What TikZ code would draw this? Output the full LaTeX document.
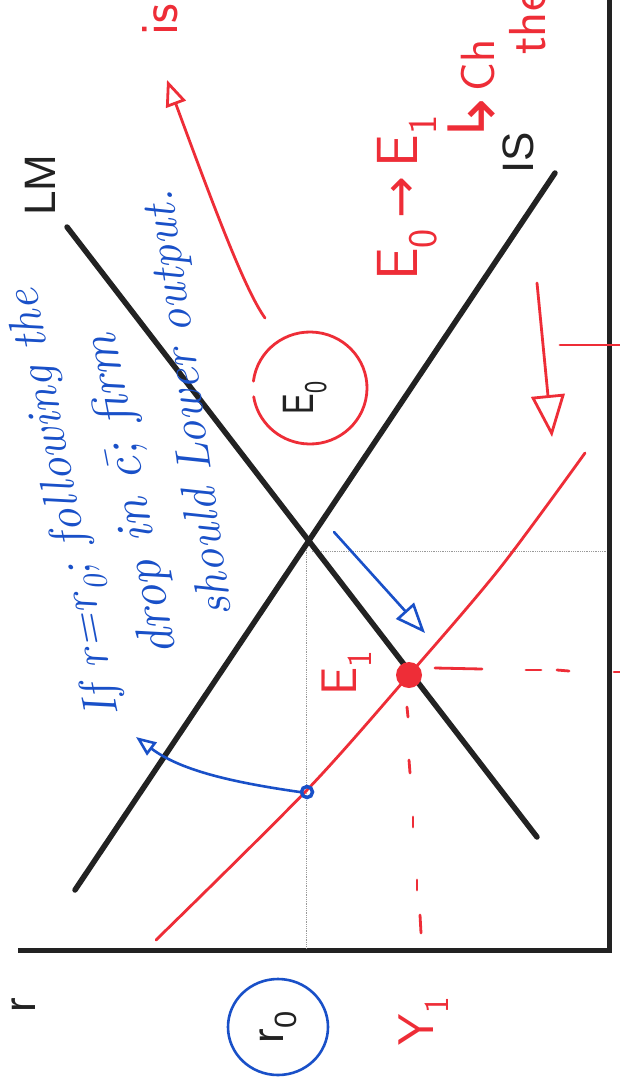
\documentclass[tikz,border=0pt]{standalone}
\usepackage{fontspec}
\newfontfamily\lab{Liberation Sans}
\newfontfamily\sym{DejaVu Sans}
\usetikzlibrary{arrows.meta}
\definecolor{hred}{RGB}{238,45,55}
\definecolor{hblue}{RGB}{25,80,200}
\definecolor{ink}{RGB}{34,34,34}
\newcommand{\fsz}[1]{\fontsize{#1}{#1}\selectfont}
\begin{document}
\begin{tikzpicture}[x=1pt,y=-1pt,
  curve/.style={line width=5.5pt, draw=ink, line cap=round},
  axisline/.style={line width=5pt, draw=ink},
  redline/.style={line width=2.8pt, draw=hred, line cap=round},
  blueline/.style={line width=2.6pt, draw=hblue, line cap=round},
  guide/.style={densely dotted, draw=gray!80, line width=0.8pt},
  printed/.style={font=\lab\fsz{44}, text=ink, inner sep=0pt},
  bluehand/.style={font=\itshape\fsz{48}, text=hblue, inner sep=0pt},
  redhand/.style={font=\sffamily\fsz{58}, text=hred, inner sep=0pt},
  opentip/.style={-{Triangle[open, length=#1, width=0.8*#1]}}
]
\useasboundingbox (0,0) rectangle (620,1088);
\clip (0,0) rectangle (620,1088);
\fill[white] (0,0) rectangle (620,1088);

% axes
\coordinate (origin) at (609,950);
\coordinate (ytop) at (609,-5);
\coordinate (xend) at (18,950);
\draw[axisline] (xend) -- (origin) -- (ytop);

% guides
\coordinate (E0pt) at (308,542);
\coordinate (gv1) at (306,548);
\coordinate (gv2) at (306,948);
\coordinate (gh1) at (312,551);
\coordinate (gh2) at (607,551);
\draw[guide] (gv1) -- (gv2);
\draw[guide] (gh1) -- (gh2);

% LM and IS
\coordinate (LMa) at (67,227); \coordinate (LMb) at (537,837);
\coordinate (ISa) at (555,173); \coordinate (ISb) at (75,890);
\draw[curve] (LMa) -- (LMb);
\draw[curve] (ISa) -- (ISb);

% red shifted curve
\draw[redline] plot[smooth, tension=0.5] coordinates {(156,940) (307,790) (409,675) (500,568) (585,453)};

% dashed lines from E1
\draw[redline] (435,668) -- (482,669);
\draw[redline] (526,670) -- (541,670);
\draw[redline] (557,670) -- (569,671);
\draw[redline] (614,672) -- (622,672);
\draw[redline] (407,707) -- (408,717);
\draw[redline] (409,760) -- (410,773);
\draw[redline] (413,817) -- (413,827);
\draw[redline] (417,880) -- (417,890);
\draw[redline] (420,915) -- (421,933);

% points
\node[circle, fill=hred, minimum size=26pt, inner sep=0pt] (E1) at (409,675) {};
\node[circle, draw=hblue, line width=3.5pt, minimum size=11pt, inner sep=0pt] (bdot) at (307,792) {};

% red tick on axis
\coordinate (tk1) at (560,345); \coordinate (tk2) at (622,345);
\draw[redline] (tk1) -- (tk2);

% red down arrow
\coordinate (ra1) at (537,283); \coordinate (ra2) at (552,437);
\draw[redline, opentip=42pt] (ra1) -- (ra2);

% blue arrow
\coordinate (ba1) at (334,532); \coordinate (ba2) at (425,633);
\draw[blueline, opentip=30pt] (ba1) -- (ba2);

% blue curved arrow
\coordinate (bc2) at (136,737);
\draw[blueline, opentip=20pt] (bdot.west) .. controls (230,782) and (180,770) .. (bc2);

% E0 circle and arrow
\coordinate (E0c) at (310,388);
\draw[redline] (E0c) ++(187:57 and 56) arc[start angle=187, end angle=531, x radius=57, y radius=56];
\coordinate (ca1) at (265,318); \coordinate (ca2) at (167,80);
\draw[redline, opentip=26pt] (ca1) .. controls (245,290) and (215,210) .. (ca2);

% printed labels
\node[printed, rotate=90] (LMlab) at (40,185) {LM};
\node[printed, rotate=90] (ISlab) at (518,153) {IS};
\node[printed, rotate=90] (E0lab) at (305,398) {\scalebox{0.7}[1]{E\textsubscript{0}}};
\node[printed, rotate=90] (rlab) at (24,1005) {r};
\node[printed, rotate=90] (r0lab) at (278,1027) {r\textsubscript{0}};
\draw[blueline] (r0lab) ellipse[x radius=50, y radius=48];

% red handwriting
\node[redhand, font=\sffamily\fsz{50}, rotate=90] (E1lab) at (347,673) {E\textsubscript{1}};
\node[redhand, font=\sffamily\fsz{50}, rotate=90] (Y1lab) at (424,1021) {Y\textsubscript{1}};
\node[redhand, rotate=90] (shift) at (407,198) {E\textsubscript{0}\,{\sym\fsz{50}→}\,E\textsubscript{1}};
\node[redhand, font=\sffamily\fsz{48}, rotate=90, anchor=west] (chlab) at (472,145) {{\sym\fsz{64}↳}Ch};
\node[redhand, font=\sffamily\fsz{52}, rotate=90, anchor=west] (thelab) at (528,55) {the};
\node[redhand, font=\sffamily\fsz{54}, rotate=90, anchor=west] (islab) at (160,36) {is};

% blue handwriting
\node[bluehand, rotate=101] (note1) at (68,503) {If r=r\textsubscript{0}; following the};
\node[bluehand, font=\itshape\fsz{52}, rotate=101] (note2) at (133,495) {drop in \makebox[0pt][l]{\kern0.12em ¯}c; firm};
\node[bluehand, rotate=98] (note3) at (190,403) {should Lower output.};
\end{tikzpicture}
\end{document}
